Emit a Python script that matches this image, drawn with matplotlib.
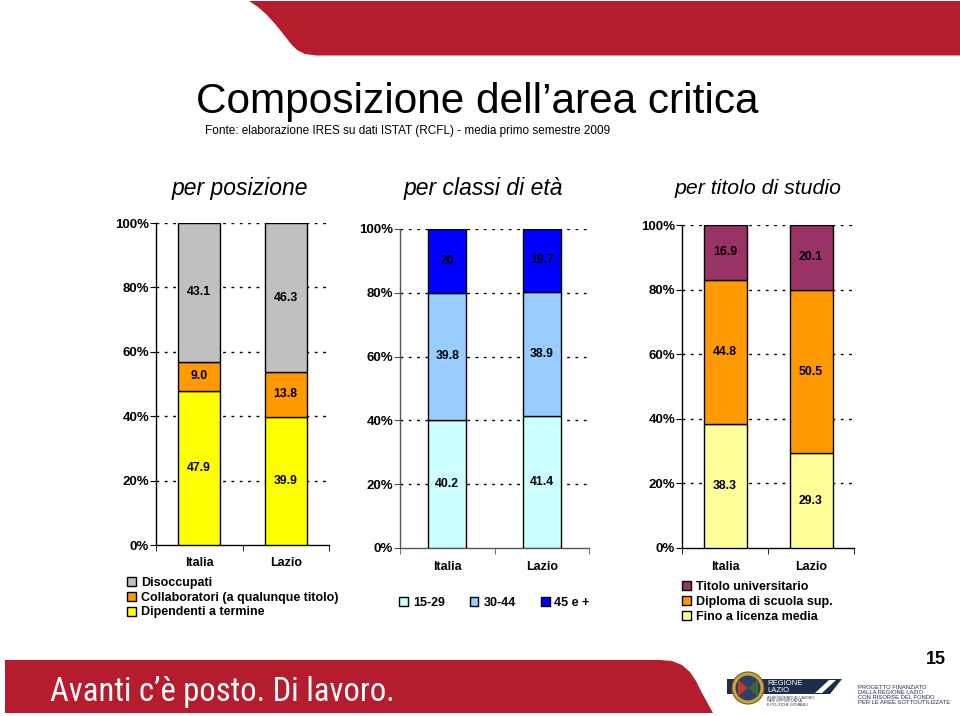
import numpy as np
import matplotlib
matplotlib.use("Agg")
import matplotlib.pyplot as plt
from matplotlib.patches import Polygon, Circle

# ---------------- data ----------------
categories = ["Italia", "Lazio"]

pos_labels = ["Dipendenti a termine", "Collaboratori (a qualunque titolo)", "Disoccupati"]
pos_dip = [47.9, 39.9]
pos_col = [9.0, 13.8]
pos_dis = [43.1, 46.3]
pos_text = [["47.9", "39.9"], ["9.0", "13.8"], ["43.1", "46.3"]]

age_labels = ["15-29", "30-44", "45 e +"]
age_1529 = [40.2, 41.4]
age_3044 = [39.8, 38.9]
age_45 = [20.0, 19.7]
age_text = [["40.2", "41.4"], ["39.8", "38.9"], ["20", "19.7"]]

edu_labels = ["Fino a licenza media", "Diploma di scuola sup.", "Titolo universitario"]
edu_lic = [38.3, 29.3]
edu_dip = [44.8, 50.5]
edu_uni = [16.9, 20.1]
edu_text = [["38.3", "29.3"], ["44.8", "50.5"], ["16.9", "20.1"]]

yticks = [0, 20, 40, 60, 80, 100]
ytick_labels = ["0%", "20%", "40%", "60%", "80%", "100%"]

# ---------------- figure ----------------
W, H = 960, 716
fig = plt.figure(figsize=(W / 100, H / 100), dpi=100)
fig.patch.set_facecolor("white")
FONT = "Liberation Sans"
plt.rcParams["font.family"] = [FONT, "DejaVu Sans"]

RED = "#B51C2E"

# background decoration axes in pixel coords
bg = fig.add_axes([0, 0, 1, 1], zorder=0)
bg.set_xlim(0, W)
bg.set_ylim(H, 0)
bg.axis("off")

top_banner = [(249, 1), (258, 7), (267, 15), (276, 25), (284, 35), (291, 44),
              (297, 50), (305, 54), (316, 55.5), (960, 55.5), (960, 1)]
bg.add_patch(Polygon(top_banner, closed=True, facecolor=RED, edgecolor="none"))

bot_banner = [(5, 660), (660, 660), (672, 661), (682, 665), (690, 672), (696, 681),
              (702, 693), (708, 704), (713, 713), (5, 713)]
bg.add_patch(Polygon(bot_banner, closed=True, facecolor=RED, edgecolor="none"))

bg.text(50, 701, "Avanti c\u2019\u00e8 posto. Di lavoro.", color="white", fontsize=23.5,
        family=["Roboto Condensed", "DejaVu Sans"], fontstretch="condensed",
        va="baseline", ha="left")

# logo Regione Lazio (approximation)
navy = "#1C2E4A"
bg.add_patch(Polygon([(727, 679), (842, 679), (830, 694), (727, 694)], closed=True,
                     facecolor=navy, edgecolor="none"))
bg.add_patch(Polygon([(829, 680), (836, 680), (822, 693), (815, 693)], closed=True,
                     facecolor="white", edgecolor="none"))
bg.add_patch(Circle((748, 688), 16, facecolor="#C9A43A", edgecolor="#7A5A10", lw=0.8))
bg.add_patch(Circle((748, 688), 12.5, facecolor="#2E3F6E", edgecolor="none"))
bg.add_patch(Polygon([(738, 680), (748, 688), (738, 696)], closed=True, facecolor="#C0392B"))
bg.add_patch(Polygon([(758, 680), (748, 688), (758, 696)], closed=True, facecolor="#3A6B35"))
bg.text(767, 683.5, "REGIONE", color="white", fontsize=5.5, va="center", ha="left")
bg.text(767, 691, "LAZIO", color="white", fontsize=5.5, va="center", ha="left")
bg.text(767, 701.5, "ASSESSORATO AL LAVORO,\nPARI OPPORTUNIT\u00c0\nE POLITICHE GIOVANILI",
        color=navy, fontsize=2.6, va="center", ha="left", linespacing=1.0)
bg.text(858, 695, "PROGETTO FINANZIATO\nDALLA REGIONE LAZIO\nCON RISORSE DEL FONDO\nPER LE AREE SOTTOUTILIZZATE",
        color=navy, fontsize=4.2, va="center", ha="left", linespacing=1.0)
bg.text(946, 660, "15", color="black", fontsize=13, fontweight="bold", va="center", ha="right")

# titles
bg.text(196, 113, "Composizione dell\u2019area critica", fontsize=30.5, va="baseline", ha="left")
bg.text(205, 134, "Fonte: elaborazione IRES su dati ISTAT (RCFL) - media primo semestre 2009",
        fontsize=8.5, va="baseline", ha="left")
bg.text(240, 188, "per posizione", fontsize=16.5, style="italic", va="center", ha="center")
bg.text(483, 188, "per classi di et\u00e0", fontsize=16.5, style="italic", va="center", ha="center")
bg.text(758, 188, "per titolo di studio", fontsize=15.3, style="italic", va="center", ha="center")


def px_axes(x0, x1, ytop, ybot):
    return fig.add_axes([x0 / W, 1 - ybot / H, (x1 - x0) / W, (ybot - ytop) / H], zorder=2)


def stacked(ax, series, texts, colors, width, axis_color):
    x = np.arange(len(categories))
    arr = np.array(series, dtype=float)
    totals = arr.sum(axis=0)
    arr = arr / totals * 100
    bottom = np.zeros(len(categories))
    containers = []
    for vals, txt, col in zip(arr, texts, colors):
        c = ax.bar(x, vals, width, bottom=bottom, color=col, edgecolor="black",
                   linewidth=1.0, zorder=3)
        ax.bar_label(c, labels=txt, label_type="center", fontsize=8.8,
                     fontweight="bold", color="black")
        containers.append(c)
        bottom = bottom + vals
    ax.set_xlim(-0.5, len(categories) - 0.5)
    ax.set_ylim(0, 100)
    ax.set_yticks(yticks)
    ax.set_yticklabels(ytick_labels, fontsize=9.5, fontweight="bold")
    ax.set_xticks(x)
    ax.set_xticklabels(categories, fontsize=9, fontweight="bold")
    ax.set_xticks(np.arange(-0.5, len(categories)), minor=True)
    ax.tick_params(axis="x", which="major", length=0, pad=9)
    ax.tick_params(axis="x", which="minor", length=4, direction="out", color=axis_color)
    ax.tick_params(axis="y", length=4, direction="out", pad=1, color=axis_color)
    for s in ["top", "right"]:
        ax.spines[s].set_visible(False)
    for s in ["left", "bottom"]:
        ax.spines[s].set_color(axis_color)
        ax.spines[s].set_linewidth(1.0)
    for yv in yticks[1:]:
        ax.axhline(yv, color="black", linewidth=1.0, linestyle=(0, (2, 4)), zorder=1)
    ax.set_facecolor("none")
    return containers


# chart 1: per posizione
ax1 = px_axes(156, 329, 223, 545)
c1 = stacked(ax1, [pos_dip, pos_col, pos_dis], pos_text,
             ["#FFFF00", "#FF9900", "#C0C0C0"], 0.49, "black")
# chart 2: per classi di età
ax2 = px_axes(400, 589, 229, 548)
c2 = stacked(ax2, [age_1529, age_3044, age_45], age_text,
             ["#CCFFFF", "#99CCFF", "#0000FF"], 0.40, "#555555")
# chart 3: per titolo di studio
ax3 = px_axes(682, 854, 225, 548)
c3 = stacked(ax3, [edu_lic, edu_dip, edu_uni], edu_text,
             ["#FFFF99", "#FF9900", "#993366"], 0.50, "black")

leg_kw = dict(loc="upper left", frameon=False, borderpad=0, borderaxespad=0,
              handlelength=0.7, handleheight=0.7, handletextpad=0.4,
              labelspacing=0.22, prop={"size": 9, "weight": "bold", "family": FONT})

fig.legend(c1[::-1], pos_labels[::-1], bbox_to_anchor=(127 / W, 1 - 577 / H), **leg_kw)
fig.legend(c3[::-1], edu_labels[::-1], bbox_to_anchor=(682 / W, 1 - 581 / H), **leg_kw)
fig.legend(c2, age_labels, bbox_to_anchor=(399 / W, 1 - 597 / H), ncol=3,
           columnspacing=2.0, **leg_kw)

fig.savefig("out.png", dpi=100)
